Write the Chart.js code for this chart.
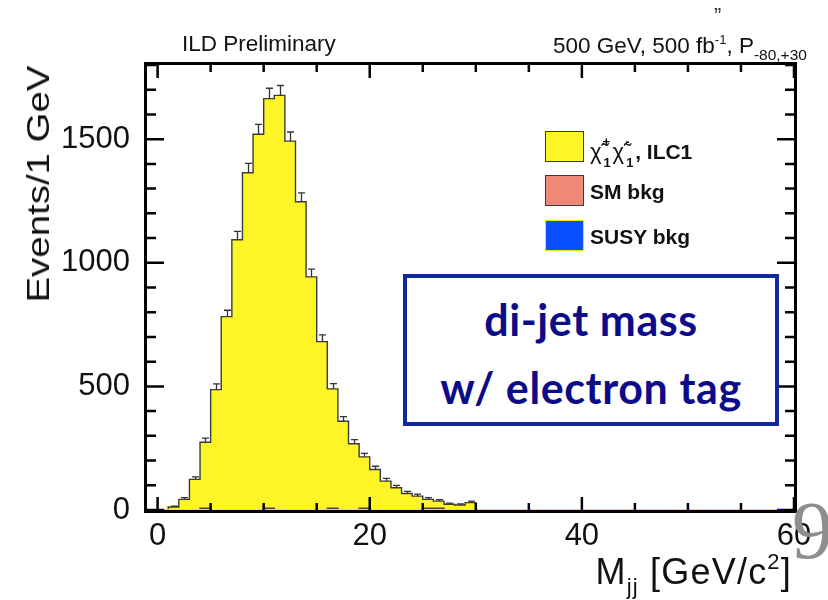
<!DOCTYPE html>
<html>
<head>
<meta charset="utf-8">
<script src="https://cdn.jsdelivr.net/npm/chart.js@4.4.1/dist/chart.umd.min.js"></script>
<style>
  html, body { margin: 0; padding: 0; background: #fff; }
  #wrap { position: relative; width: 828px; height: 600px; overflow: hidden; font-family: "Liberation Sans", Arial, sans-serif; }
  canvas { position: absolute; left: 0; top: 0; }
  .abs { position: absolute; white-space: nowrap; line-height: 1; }
  .hdr { font-size: 22.5px; color: #111; }
  .leg { font-size: 21px; font-weight: bold; color: #111; }
  .sw { position: absolute; width: 37px; height: 29px; }
  .chi { font-weight: normal; font-size: 22px; }
  .ss { display: inline-block; position: relative; width: 10px; height: 1em; margin-left: 1px; }
  .ss .u { position: absolute; left: 0; top: -2px; font-size: 13px; font-weight: bold; }
  .ss .d { position: absolute; left: 1px; top: 19px; font-size: 13px; font-weight: bold; }
  #box { position: absolute; left: 403px; top: 274px; width: 368px; height: 144px; border: 4px solid #12279b; background: #fff; }
  .boxt { position: absolute; left: 0; width: 100%; text-align: center; font-family: Lato, "Open Sans", sans-serif; font-weight: bold; font-size: 43px; letter-spacing: 0.6px; color: #0c0c8a; line-height: 1; }
</style>
</head>
<body>
<div id="wrap">
  <canvas id="c" width="828" height="600"></canvas>

  <div class="abs" style="left:714px; top:-8px; font-size:22px; color:#333;">„</div>
  <div class="abs hdr" style="left:182px; top:33px;">ILD Preliminary</div>
  <div class="abs hdr" style="left:553px; top:33px;">500 GeV, 500 fb<span style="font-size:13px; vertical-align:9px;">-1</span>, P<span style="font-size:15.5px; vertical-align:-7px;">-80,+30</span></div>

  <div class="sw" style="left:545px; top:131px; background:#fff526; border:1.5px solid #3a3a3a;"></div>
  <div class="sw" style="left:545px; top:175px; background:#f08878; border:1.5px solid #3a3a3a;"></div>
  <div class="sw" style="left:545px; top:220px; background:#0a50ff; border:1.5px solid #f2e31a;"></div>
  <div class="abs leg" style="left:590px; top:137px;"><span class="chi">χ̃<span class="ss"><span class="u">+</span><span class="d">1</span></span>χ̃<span class="ss"><span class="u">-</span><span class="d">1</span></span></span>, ILC1</div>
  <div class="abs leg" style="left:590px; top:181px;">SM bkg</div>
  <div class="abs leg" style="left:590px; top:226px;">SUSY bkg</div>

  <div id="box">
    <div class="boxt" style="top:20px;">di-jet mass</div>
    <div class="boxt" style="top:88px;">w/ electron tag</div>
  </div>

  <div class="abs" id="ytitle" style="left:38px; top:184px; font-size:32px; color:#111; transform: translate(-50%,-50%) rotate(-90deg) scaleX(1.2);">Events/1 GeV</div>
  <div class="abs" style="right:36px; top:551px; font-size:36px; letter-spacing:1.2px; color:#111;">M<span style="font-size:22px; vertical-align:-10px;">jj</span> [GeV/c<span style="font-size:22px; vertical-align:15px;">2</span>]</div>

  <div class="abs" style="left:792px; top:490px; font-family:'Liberation Serif', serif; font-size:82px; color:#8e8e8e;">9</div>
</div>

<script>
// ---- data ----
// lower edges of the 1 GeV bins
const binLow = [-1,0,1,2,3,4,5,6,7,8,9,10,11,12,13,14,15,16,17,18,19,20,21,22,23,24,25,26,27,28,29,
  30,31,32,33,34,35,36,37,38,39,40,41,42,43,44,45,46,47,48,49,50,51,52,53,54,55,56,57,58,59];
// signal chi1+ chi1-, ILC1 (events / 1 GeV)
const signalVals = [0,0,12,43,124,274,487,782,1093,1364,1520,1664,1677,1492,1247,943,681,490,359,268,215,
  164,117,90,67,56,43,36,23,20,30,
  0,0,0,0,0,0,0,0,0,0,0,0,0,0,0,0,0,0,0,0,0,0,0,0,0,0,0,0,0,0];
// statistical errors of the signal (upper half visible)
const signalErr = [0,0,4,7,10,17,23,26,34,38,40,42,40,37,36,31,27,21,19,17,14,
  13,11,10,8,8,7,6,5,5,6,
  0,0,0,0,0,0,0,0,0,0,0,0,0,0,0,0,0,0,0,0,0,0,0,0,0,0,0,0,0,0];
// SM background
const smVals = [0,0,0,0,0,7,0,0,0,0,0,7,0,0,0,0,0,7,0,0,7,
  0,0,0,0,0,7,7,0,0,0,
  0,0,0,0,0,0,0,0,0,0,0,0,0,0,0,0,0,0,0,0,0,0,0,0,0,0,0,0,0,0];
// SUSY background
const susyVals = [0,0,0,0,0,0,0,0,0,0,0,0,0,0,0,0,0,0,0,0,0,
  0,0,0,0,0,0,0,0,0,0,
  0,0,0,0,0,0,0,0,0,0,0,0,0,0,0,0,0,0,0,0,0,0,0,0,0,0,0,0,0,0];
// axis
const xTickLabels = [0, 20, 40, 60];
const yTickLabels = [0, 500, 1000, 1500];
const xMinorStep = 5, yMinorStep = 100;

// step outline points: one at each lower edge, plus the closing upper edge
function stepPoints(vals) {
  const pts = binLow.map((x, i) => ({ x: x, y: vals[i] }));
  pts.push({ x: binLow[binLow.length - 1] + 1, y: vals[vals.length - 1] });
  return pts;
}

const framePlugin = {
  id: 'rootFrame',
  afterDatasetsDraw(chart) {
    const { ctx, chartArea: a, scales } = chart;
    const xs = scales.x, ys = scales.y;
    ctx.save();
    // error bars
    ctx.strokeStyle = '#333';
    ctx.lineWidth = 1.3;
    binLow.forEach((lo, i) => {
      const e = signalErr[i];
      if (!e) return;
      const xc = Math.round(xs.getPixelForValue(lo + 0.5)) + 0.5;
      const y0 = ys.getPixelForValue(signalVals[i]);
      const y1 = ys.getPixelForValue(signalVals[i] + e);
      ctx.beginPath();
      ctx.moveTo(xc, y0); ctx.lineTo(xc, y1);
      ctx.moveTo(xc - 3.5, y1); ctx.lineTo(xc + 3.5, y1);
      ctx.stroke();
    });
    // inward ticks
    ctx.strokeStyle = '#000';
    ctx.lineWidth = 2.5;
    ctx.beginPath();
    for (let v = xTickLabels[0]; v <= xs.max + 1e-9; v += xMinorStep) {
      const major = xTickLabels.includes(v);
      const len = major ? 13 : 7;
      const px = xs.getPixelForValue(v);
      ctx.moveTo(px, a.bottom); ctx.lineTo(px, a.bottom - len);
      ctx.moveTo(px, a.top); ctx.lineTo(px, a.top + len);
    }
    for (let v = yTickLabels[0]; v <= ys.max + 1e-9; v += yMinorStep) {
      const major = yTickLabels.includes(v);
      const len = major ? 17 : 9;
      const py = ys.getPixelForValue(v);
      ctx.moveTo(a.left, py); ctx.lineTo(a.left + len, py);
      ctx.moveTo(a.right, py); ctx.lineTo(a.right - len, py);
    }
    ctx.stroke();
    // frame (outside the plot area)
    ctx.lineWidth = 3;
    ctx.strokeRect(a.left - 1.5, a.top - 1.5, a.right - a.left + 3, a.bottom - a.top + 3);
    ctx.restore();
  }
};

const tickFont = { family: "'Liberation Sans', Arial, sans-serif", size: 31 };

new Chart(document.getElementById('c').getContext('2d'), {
  type: 'line',
  data: {
    datasets: [
      { label: 'SUSY bkg', data: stepPoints(susyVals), stepped: 'before', fill: 'origin',
        backgroundColor: '#0a50ff', borderColor: '#f2e31a', borderWidth: 2, pointRadius: 0, order: 0 },
      { label: 'SM bkg', data: stepPoints(smVals), stepped: 'before', fill: 'origin',
        backgroundColor: '#f08878', borderColor: '#4a4a30', borderWidth: 1.5, pointRadius: 0, order: 1 },
      { label: 'χ̃1+χ̃1-, ILC1', data: stepPoints(signalVals), stepped: 'before', fill: 'origin',
        backgroundColor: '#fff526', borderColor: '#3a3a3a', borderWidth: 1.4, pointRadius: 0, order: 2 }
    ]
  },
  options: {
    responsive: false,
    animation: false,
    devicePixelRatio: 1,
    layout: { padding: { top: 65, right: 34, left: 0, bottom: 0 } },
    plugins: { legend: { display: false }, tooltip: { enabled: false } },
    scales: {
      x: {
        type: 'linear', min: -1, max: 60,
        grid: { display: false, drawTicks: false },
        border: { display: false },
        afterBuildTicks: s => { s.ticks = xTickLabels.map(v => ({ value: v })); },
        afterFit: s => { s.height = 90; },
        ticks: { font: tickFont, color: '#111', padding: 8, maxRotation: 0, autoSkip: false,
                 callback: v => String(v) }
      },
      y: {
        type: 'linear', min: 0, max: 1800,
        grid: { display: false, drawTicks: false },
        border: { display: false },
        afterBuildTicks: s => { s.ticks = yTickLabels.map(v => ({ value: v })); },
        afterFit: s => { s.width = 147; },
        ticks: { font: tickFont, color: '#111', padding: 17, autoSkip: false,
                 callback: v => String(v) }
      }
    }
  },
  plugins: [framePlugin]
});
</script>
</body>
</html>
